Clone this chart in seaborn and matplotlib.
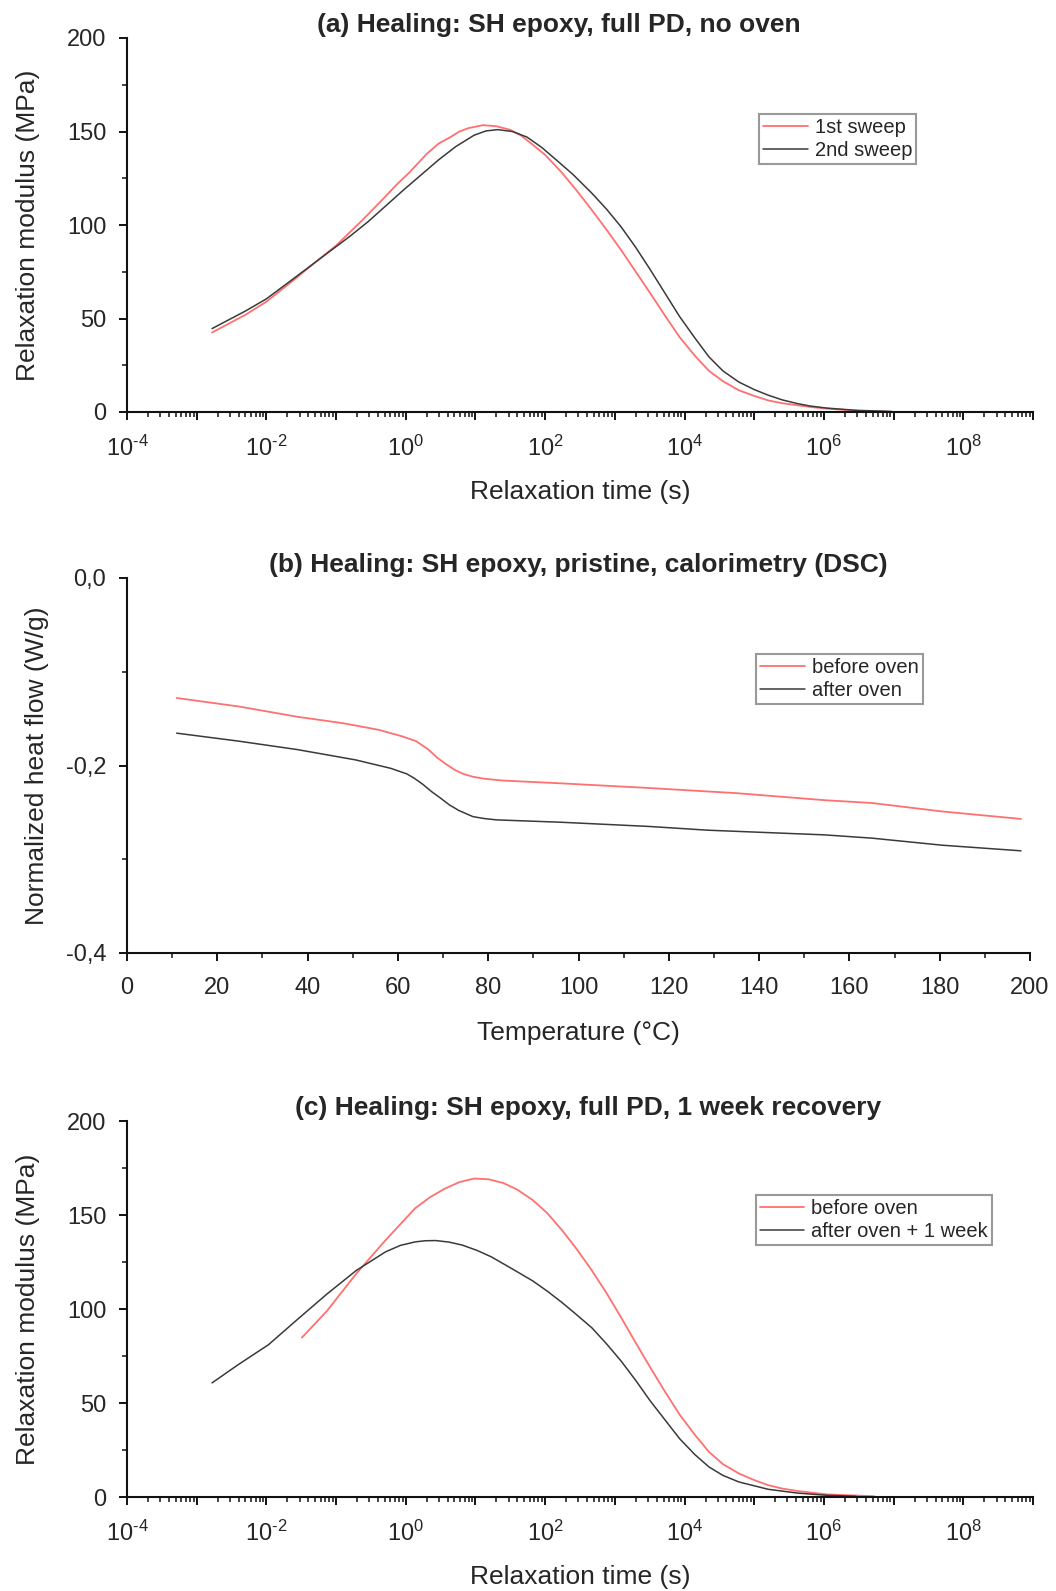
import numpy as np
import pandas as pd
import matplotlib
matplotlib.use("Agg")
import matplotlib.pyplot as plt
import seaborn as sns
from matplotlib.ticker import LogLocator, FuncFormatter, MultipleLocator, NullFormatter, FixedLocator

sns.set_theme(style="ticks")
plt.rcParams["font.family"] = ["Liberation Sans", "DejaVu Sans"]
plt.rcParams["mathtext.fontset"] = "custom"
plt.rcParams["mathtext.rm"] = "Liberation Sans"
plt.rcParams["mathtext.it"] = "Liberation Sans"
plt.rcParams["axes.unicode_minus"] = False

RED = "#ff7070"
DARK = "#3a3a3a"

# ---------------- data ----------------
# (a) log10 relaxation time (s) and modulus (MPa)
a_logt_1st = [-2.78, -2.30, -2.00, -1.64, -1.30, -1.00, -0.62, -0.35, -0.12, 0.05, 0.30, 0.47,
              0.64, 0.77, 0.90, 1.11, 1.30, 1.49, 1.65, 1.82, 2.00, 2.24, 2.45, 2.67, 2.88, 3.09,
              3.30, 3.51, 3.72, 3.93, 4.15, 4.35, 4.55, 4.78, 5.00, 5.20, 5.40, 5.62, 5.80, 6.04,
              6.55, 6.90]
a_mod_1st = [42.5, 52.0, 59.0, 69.6, 80.0, 89.0, 102.7, 113.0, 122.0, 128.0, 138.0, 143.5,
             147.0, 150.0, 151.8, 153.4, 152.8, 151.0, 148.0, 143.0, 137.5, 128.0, 118.5, 108.0,
             97.5, 86.6, 75.0, 63.4, 51.5, 40.0, 30.0, 22.0, 16.5, 11.6, 8.6, 6.2, 4.7, 3.6, 2.7,
             1.8, 0.5, 0.2]
a_logt_2nd = [-2.78, -2.30, -2.00, -1.64, -1.13, -0.80, -0.54, -0.03, 0.47, 0.72, 0.98, 1.15,
              1.32, 1.53, 1.74, 1.95, 2.16, 2.40, 2.67, 2.88, 3.09, 3.30, 3.51, 3.72, 3.93, 4.15,
              4.35, 4.55, 4.78, 5.00, 5.20, 5.40, 5.62, 5.80, 6.04, 6.46, 6.97]
a_mod_2nd = [44.6, 54.0, 60.5, 70.5, 84.8, 94.0, 101.8, 118.8, 134.8, 142.0, 148.0, 150.3,
             151.0, 150.0, 147.0, 141.5, 134.8, 127.0, 117.0, 108.5, 99.0, 88.0, 76.0, 63.5,
             51.0, 39.5, 29.5, 22.0, 16.0, 12.0, 9.0, 6.5, 4.5, 3.2, 2.1, 0.9, 0.3]

# (b) temperature (°C) and normalized heat flow (W/g)
b_temp_before = [11, 24.7, 37.7, 48, 55.8, 61, 64, 66.5, 68.8, 70.5, 72.7, 74.5, 76.6, 79, 83, 96,
                 115.6, 135, 154.5, 165, 180.5, 198]
b_flow_before = [-0.128, -0.137, -0.148, -0.155, -0.162, -0.169, -0.174, -0.182, -0.192, -0.198,
                 -0.205, -0.209, -0.212, -0.214, -0.216, -0.219, -0.224, -0.2295, -0.237, -0.240,
                 -0.249, -0.257]
b_temp_after = [11, 24.7, 37.7, 50.6, 58.4, 62, 63.6, 65.5, 67.5, 69.5, 71.4, 73.5, 76.6, 79, 81.8,
                96, 115.6, 128.6, 154.5, 165, 180.5, 198]
b_flow_after = [-0.1655, -0.174, -0.183, -0.194, -0.203, -0.209, -0.2135, -0.220, -0.228, -0.235,
                -0.242, -0.248, -0.2545, -0.2565, -0.258, -0.2605, -0.265, -0.269, -0.274, -0.2775,
                -0.285, -0.291]

# (c) log10 relaxation time (s) and modulus (MPa)
c_logt_before = [-1.49, -1.13, -0.71, -0.29, 0.135, 0.35, 0.56, 0.77, 0.98, 1.19, 1.40, 1.60,
                 1.82, 2.03, 2.24, 2.45, 2.67, 2.88, 3.09, 3.30, 3.51, 3.72, 3.93, 4.15, 4.35,
                 4.55, 4.78, 5.00, 5.20, 5.40, 5.62, 6.04, 6.72]
c_mod_before = [84.8, 99.0, 118.8, 136.6, 153.6, 159.5, 164.0, 167.5, 169.4, 169.0, 167.0, 163.5,
                158.0, 151.0, 142.0, 132.0, 120.5, 108.5, 95.5, 82.0, 68.8, 56.0, 43.8, 33.0,
                24.0, 17.5, 12.5, 9.0, 6.3, 4.5, 3.2, 1.4, 0.4]
c_logt_after = [-2.78, -2.40, -1.97, -1.55, -1.13, -0.71, -0.29, -0.08, 0.135, 0.28, 0.43, 0.62,
                0.81, 1.02, 1.23, 1.52, 1.82, 2.03, 2.24, 2.45, 2.67, 2.88, 3.09, 3.30, 3.51, 3.72,
                3.93, 4.15, 4.35, 4.55, 4.78, 5.20, 5.62, 6.04, 6.46]
c_mod_after = [60.7, 70.5, 81.0, 94.6, 108.0, 120.5, 130.4, 133.8, 135.7, 136.3, 136.4, 135.6,
               134.0, 131.2, 127.7, 121.5, 115.0, 109.5, 103.5, 97.0, 90.0, 81.5, 72.3, 62.0,
               51.0, 41.0, 31.0, 22.5, 16.0, 11.5, 8.0, 4.1, 2.1, 0.9, 0.4]

titles = ["(a) Healing: SH epoxy, full PD, no oven",
          "(b) Healing: SH epoxy, pristine, calorimetry (DSC)",
          "(c) Healing: SH epoxy, full PD, 1 week recovery"]
legend_a = ["1st sweep", "2nd sweep"]
legend_b = ["before oven", "after oven"]
legend_c = ["before oven", "after oven + 1 week"]

# ---------------- figure ----------------
W, H = 1056, 1591
fig = plt.figure(figsize=(W / 100, H / 100), dpi=100)


def px_axes(left, right, top, bottom):
    return fig.add_axes([left / W, 1 - bottom / H, (right - left) / W, (bottom - top) / H])


axA = px_axes(127, 1033, 38, 412)
axB = px_axes(127, 1030, 578, 953)
axC = px_axes(127, 1033, 1121, 1497)

TICK_FS = 17
LABEL_FS = 19
TITLE_FS = 19
LEG_FS = 14.5


def draw(ax, x1, y1, x2, y2, labels):
    sns.lineplot(x=x1, y=y1, ax=ax, color=RED, lw=1.3, label=labels[0], sort=False, estimator=None)
    sns.lineplot(x=x2, y=y2, ax=ax, color=DARK, lw=1.1, label=labels[1], sort=False, estimator=None)


def style(ax):
    sns.despine(ax=ax)
    for s in ["left", "bottom"]:
        ax.spines[s].set_linewidth(1.5)
        ax.spines[s].set_color("#111111")
    ax.tick_params(axis="both", which="major", direction="out", length=6, width=1.4,
                   labelsize=TICK_FS, color="#111111")
    ax.tick_params(axis="x", which="major", pad=11)
    ax.tick_params(axis="y", which="major", pad=9)
    ax.tick_params(axis="both", which="minor", direction="out", length=3.5, width=1.1,
                   color="#111111")


def legend(ax, x, y):
    leg = ax.legend(loc="upper left", bbox_to_anchor=(x, y), fontsize=LEG_FS, frameon=True,
                    fancybox=False, handlelength=2.2, handletextpad=0.35, borderpad=0.2,
                    labelspacing=0.2, borderaxespad=0)
    leg.get_frame().set_edgecolor("#808080")
    leg.get_frame().set_linewidth(1.5)


def logfmt(v, pos):
    e = int(round(np.log10(v)))
    if e % 2 == 0 and -4 <= e <= 8:
        if e < 0:
            return r"$\mathregular{10^{\text{-}%d}}$" % (-e)
        return r"$\mathregular{10^{%d}}$" % e
    return ""


for ax, t1, g1, t2, g2, labs, title, tx in [
    (axA, a_logt_1st, a_mod_1st, a_logt_2nd, a_mod_2nd, legend_a, titles[0], 0.477),
    (axC, c_logt_before, c_mod_before, c_logt_after, c_mod_after, legend_c, titles[2], 0.509),
]:
    draw(ax, np.power(10.0, t1), g1, np.power(10.0, t2), g2, labs)
    ax.set_xscale("log")
    ax.set_xlim(1e-4, 1e9)
    ax.set_ylim(0, 200)
    ax.xaxis.set_major_locator(LogLocator(base=10, numticks=30))
    ax.xaxis.set_major_formatter(FuncFormatter(logfmt))
    ax.xaxis.set_minor_locator(LogLocator(base=10, subs=np.arange(2, 10), numticks=200))
    ax.xaxis.set_minor_formatter(NullFormatter())
    ax.yaxis.set_major_locator(MultipleLocator(50))
    ax.yaxis.set_minor_locator(MultipleLocator(25))
    ax.set_xlabel("Relaxation time (s)", fontsize=LABEL_FS, labelpad=14)
    ax.set_ylabel("Relaxation modulus (MPa)", fontsize=LABEL_FS, labelpad=19)
    style(ax)
    ax.set_title(title, fontsize=TITLE_FS, fontweight="bold", x=tx, pad=4)

legend(axA, 0.698, 0.797)
legend(axC, 0.694, 0.803)

draw(axB, b_temp_before, b_flow_before, b_temp_after, b_flow_after, legend_b)
axB.set_xlim(0, 200)
axB.set_ylim(-0.4, 0.0)
axB.xaxis.set_major_locator(MultipleLocator(20))
axB.xaxis.set_minor_locator(MultipleLocator(10))
axB.yaxis.set_major_locator(FixedLocator([-0.4, -0.2, 0.0]))
axB.yaxis.set_minor_locator(FixedLocator([-0.3, -0.1]))
axB.yaxis.set_major_formatter(FuncFormatter(lambda v, p: ("%.1f" % v).replace(".", ",").replace("-0,0", "0,0")))
axB.set_xlabel("Temperature (°C)", fontsize=LABEL_FS, labelpad=16)
axB.set_ylabel("Normalized heat flow (W/g)", fontsize=LABEL_FS, labelpad=12)
style(axB)
axB.set_title(titles[1], fontsize=TITLE_FS, fontweight="bold", x=0.50, pad=4)
legend(axB, 0.697, 0.797)

fig.savefig("out.png", dpi=100)
